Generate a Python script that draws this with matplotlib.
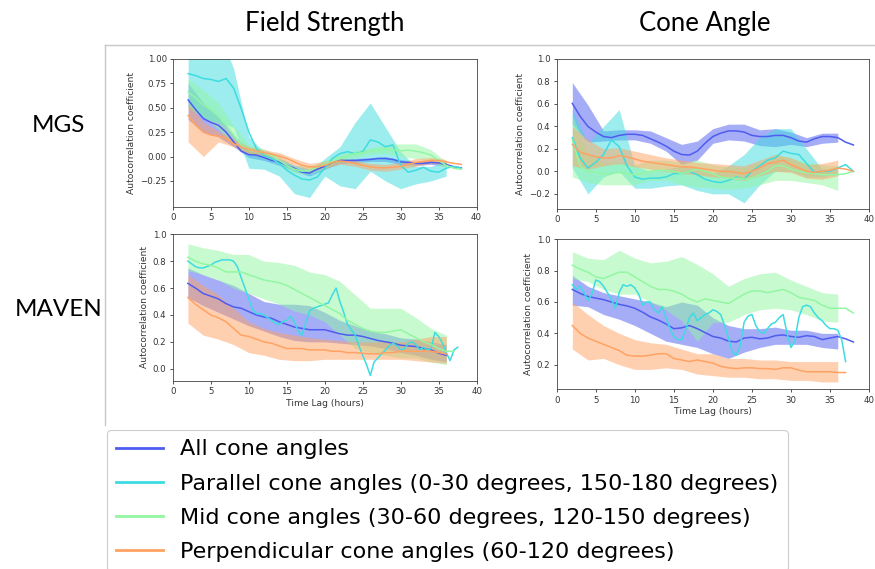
import numpy as np
import matplotlib
matplotlib.use("Agg")
import matplotlib.pyplot as plt
from matplotlib.lines import Line2D

nan = np.nan

# time lag grids (hours)
hours = np.arange(2, 39, 1)            # 2..38
hours_fine = np.arange(2, 38.01, 0.5)  # 2..38 every half hour
hours_band = np.arange(2, 37, 2)       # 2..36 for the shaded ranges

labels = ["All cone angles",
          "Parallel cone angles (0-30 degrees, 150-180 degrees)",
          "Mid cone angles (30-60 degrees, 120-150 degrees)",
          "Perpendicular cone angles (60-120 degrees)"]
colors = ["#4f5cf0", "#3ddce0", "#92f6a2", "#ffa263"]

# ---- Field strength, MGS ----
fs_mgs_all = [0.58, 0.48, 0.39, 0.35, 0.32, 0.25, 0.15, 0.055, 0.02, 0.015, -0.01, -0.04, -0.055, -0.09, -0.12,
              -0.16, -0.17, -0.13, -0.10, -0.06, -0.04, -0.04, -0.04, -0.035, -0.03, -0.02, -0.02, -0.03, -0.055,
              -0.06, -0.07, -0.07, -0.06, -0.065, -0.08, -0.105, -0.115]
fs_mgs_all_lo = [0.38, 0.25, 0.20, 0.10, -0.01, -0.04, -0.09, -0.15, -0.20, -0.13, -0.07, -0.06, -0.05, -0.05, -0.08,
                 -0.09, -0.08, -0.10]
fs_mgs_all_hi = [0.75, 0.55, 0.42, 0.22, 0.06, 0.03, -0.02, -0.09, -0.13, -0.07, -0.02, -0.02, -0.01, 0.0, -0.03,
                 -0.05, -0.04, -0.06]
fs_mgs_par = [0.85, 0.83, 0.80, 0.79, 0.77, 0.80, 0.70, 0.49, 0.25, 0.08, 0.01, -0.02, -0.07, -0.14, -0.19, -0.23,
              -0.24, -0.21, -0.12, -0.02, 0.03, 0.05, 0.03, 0.05, 0.17, 0.15, 0.10, 0.12, -0.09, -0.16, -0.14, -0.11,
              -0.15, -0.16, -0.12, -0.10, -0.12]
fs_mgs_par_lo = [0.50, 0.40, 0.35, 0.30, -0.12, -0.13, -0.20, -0.38, -0.42, -0.20, -0.30, -0.33, -0.15, -0.25, -0.33,
                 -0.28, -0.25, -0.20]
fs_mgs_par_hi = [1.30, 1.30, 1.30, 0.90, 0.20, 0.05, -0.05, -0.12, -0.15, -0.02, 0.10, 0.35, 0.55, 0.30, 0.05, -0.10,
                 -0.10, -0.05]
fs_mgs_mid = [0.66, 0.60, 0.53, 0.48, 0.41, 0.32, 0.22, 0.12, 0.065, 0.055, 0.04, 0.015, -0.04, -0.09, -0.13, -0.15,
              -0.14, -0.11, -0.08, -0.05, -0.02, 0.01, 0.03, 0.04, 0.055, 0.065, 0.075, 0.07, 0.06, 0.065, 0.055,
              0.04, 0.015, -0.04, -0.09, -0.12, -0.13]
fs_mgs_mid_lo = [0.50, 0.40, 0.28, 0.12, 0.02, 0.0, -0.08, -0.17, -0.18, -0.12, -0.06, -0.01, 0.02, 0.03, 0.0, -0.02,
                 -0.04, -0.13]
fs_mgs_mid_hi = [0.80, 0.68, 0.55, 0.32, 0.12, 0.08, 0.0, -0.09, -0.10, -0.04, 0.02, 0.06, 0.09, 0.12, 0.13, 0.13,
                 0.07, -0.05]
fs_mgs_perp = [0.42, 0.32, 0.25, 0.22, 0.21, 0.185, 0.13, 0.10, 0.07, 0.055, 0.04, 0.025, 0.005, -0.02, -0.055, -0.09,
               -0.105, -0.105, -0.09, -0.06, -0.045, -0.055, -0.07, -0.09, -0.105, -0.115, -0.115, -0.11, -0.10,
               -0.08, -0.06, -0.05, -0.04, -0.04, -0.055, -0.07, -0.08]
fs_mgs_perp_lo = [0.15, 0.0, 0.15, 0.10, 0.03, 0.01, -0.03, -0.09, -0.14, -0.12, -0.08, -0.10, -0.14, -0.15, -0.13,
                  -0.10, -0.07, -0.08]
fs_mgs_perp_hi = [0.55, 0.35, 0.26, 0.18, 0.10, 0.07, 0.04, -0.02, -0.07, -0.05, -0.02, -0.04, -0.07, -0.08, -0.06,
                  -0.02, -0.01, -0.03]

# ---- Cone angle, MGS ----
ca_mgs_all = [0.605, 0.49, 0.40, 0.35, 0.31, 0.30, 0.32, 0.33, 0.33, 0.32, 0.29, 0.26, 0.225, 0.18, 0.15, 0.145, 0.18,
              0.25, 0.31, 0.34, 0.36, 0.36, 0.35, 0.32, 0.31, 0.31, 0.32, 0.32, 0.30, 0.27, 0.26, 0.29, 0.31, 0.31,
              0.30, 0.26, 0.235]
ca_mgs_all_lo = [0.42, 0.26, 0.27, 0.28, 0.28, 0.25, 0.18, 0.06, 0.10, 0.25, 0.28, 0.27, 0.23, 0.22, 0.24, 0.22,
                 0.25, 0.26]
ca_mgs_all_hi = [0.79, 0.59, 0.36, 0.37, 0.37, 0.36, 0.30, 0.24, 0.27, 0.38, 0.42, 0.42, 0.37, 0.38, 0.35, 0.30,
                 0.34, 0.34]
ca_mgs_par = [0.30, 0.12, 0.03, 0.08, 0.15, 0.28, 0.22, 0.05, -0.05, -0.07, -0.06, -0.06, -0.05, -0.02, -0.02, 0.0,
              -0.03, -0.07, -0.09, -0.10, -0.08, -0.05, -0.07, 0.0, 0.05, 0.10, 0.12, 0.18, 0.16, 0.15, 0.07, -0.01,
              0.0, 0.0, 0.03, 0.06, 0.0]
ca_mgs_par_lo = [0.03, -0.20, -0.05, 0.0, -0.15, -0.15, -0.13, -0.12, -0.17, -0.20, -0.20, -0.28, -0.12, 0.0, 0.0,
                 -0.05, -0.05, -0.02]
ca_mgs_par_hi = [0.55, 0.25, 0.40, 0.55, 0.05, 0.0, 0.02, 0.05, 0.03, -0.02, 0.05, 0.15, 0.30, 0.38, 0.38, 0.20,
                 0.02, 0.02]
ca_mgs_mid = [0.28, 0.05, 0.0, -0.01, -0.02, -0.02, -0.01, -0.02, -0.03, -0.02, 0.0, 0.01, 0.01, 0.0, -0.02, 0.0,
              0.02, 0.0, -0.02, -0.05, -0.06, -0.06, -0.07, -0.06, -0.03, 0.0, 0.05, 0.05, 0.02, 0.0, -0.01, -0.02,
              -0.03, -0.03, -0.03, -0.02, 0.0]
ca_mgs_mid_lo = [-0.05, -0.10, -0.12, -0.12, -0.12, -0.08, -0.08, -0.12, -0.14, -0.15, -0.16, -0.15, -0.12, -0.08,
                 -0.08, -0.10, -0.12, -0.17]
ca_mgs_mid_hi = [0.50, 0.15, 0.08, 0.08, 0.06, 0.10, 0.10, 0.08, 0.10, 0.06, 0.04, 0.03, 0.08, 0.15, 0.12, 0.08,
                 0.06, 0.05]
ca_mgs_perp = [0.24, 0.17, 0.15, 0.13, 0.12, 0.12, 0.14, 0.13, 0.11, 0.09, 0.08, 0.07, 0.06, 0.05, 0.04, 0.04, 0.03,
               0.02, 0.01, 0.0, 0.0, -0.01, -0.02, 0.0, 0.03, 0.07, 0.08, 0.10, 0.06, 0.03, 0.0, -0.01, 0.0, 0.01,
               0.03, 0.02, 0.0]
ca_mgs_perp_lo = [0.05, 0.02, 0.05, 0.07, 0.04, 0.02, 0.0, -0.02, -0.03, -0.05, -0.06, -0.08, -0.04, 0.0, -0.01,
                  -0.06, -0.07, -0.04]
ca_mgs_perp_hi = [0.40, 0.28, 0.20, 0.21, 0.18, 0.15, 0.12, 0.10, 0.08, 0.07, 0.06, 0.05, 0.10, 0.15, 0.12, 0.06,
                  0.07, 0.10]

# ---- Field strength, MAVEN ----
fs_mav_all = [0.635, 0.60, 0.56, 0.54, 0.52, 0.485, 0.46, 0.45, 0.425, 0.40, 0.385, 0.375, 0.35, 0.33, 0.31, 0.30,
              0.29, 0.29, 0.29, 0.275, 0.26, 0.25, 0.25, 0.24, 0.225, 0.21, 0.20, 0.19, 0.175, 0.17, 0.165, 0.15,
              0.14, 0.115, 0.10, nan, nan]
fs_mav_all_lo = [0.53, 0.47, 0.42, 0.37, 0.32, 0.28, 0.24, 0.21, 0.20, 0.20, 0.19, 0.18, 0.17, 0.15, 0.12, 0.10,
                 0.07, 0.05]
fs_mav_all_hi = [0.75, 0.70, 0.66, 0.62, 0.56, 0.50, 0.48, 0.48, 0.47, 0.42, 0.36, 0.32, 0.28, 0.26, 0.23, 0.22,
                 0.20, 0.18]
fs_mav_par = [0.80, 0.78, 0.76, 0.75, 0.75, 0.76, 0.77, 0.79, 0.80, 0.81, 0.81, 0.81, 0.80, 0.76, 0.68, 0.60, 0.52,
              0.44, 0.41, 0.41, 0.40, 0.38, 0.36, 0.34, 0.33, 0.35, 0.36, 0.39, 0.35, 0.28, 0.25, 0.34, 0.43, 0.45,
              0.46, 0.47, 0.48, 0.49, 0.55, 0.60, 0.50, 0.42, 0.33, 0.29, 0.25, 0.17, 0.10, 0.03, -0.05, 0.05, 0.08,
              0.11, 0.14, 0.17, 0.19, 0.17, 0.14, 0.15, 0.19, 0.20, 0.18, 0.14, 0.16, 0.14, 0.15, 0.27, 0.24, 0.19,
              0.12, 0.06, 0.14, 0.16, nan]
fs_mav_mid = [0.83, 0.80, 0.78, 0.77, 0.75, 0.72, 0.72, 0.72, 0.70, 0.68, 0.66, 0.65, 0.64, 0.62, 0.59, 0.56, 0.53,
              0.50, 0.47, 0.44, 0.41, 0.36, 0.33, 0.30, 0.28, 0.27, 0.27, 0.28, 0.29, 0.26, 0.23, 0.20, 0.18, 0.15,
              0.13, 0.13, nan]
fs_mav_mid_lo = [0.73, 0.70, 0.66, 0.60, 0.56, 0.52, 0.48, 0.43, 0.40, 0.35, 0.25, 0.15, 0.12, 0.10, 0.08, 0.08,
                 0.05, 0.03]
fs_mav_mid_hi = [0.93, 0.90, 0.88, 0.85, 0.85, 0.80, 0.79, 0.77, 0.72, 0.70, 0.65, 0.55, 0.45, 0.45, 0.45, 0.38,
                 0.30, 0.25]
fs_mav_perp = [0.53, 0.48, 0.44, 0.40, 0.38, 0.35, 0.30, 0.25, 0.24, 0.22, 0.20, 0.19, 0.17, 0.15, 0.15, 0.15, 0.14,
               0.14, 0.14, 0.13, 0.13, 0.12, 0.12, 0.115, 0.11, 0.11, 0.12, 0.12, 0.13, 0.13, 0.13, 0.13, 0.13, 0.12,
               0.11, nan, nan]
fs_mav_perp_lo = [0.34, 0.25, 0.22, 0.18, 0.12, 0.10, 0.07, 0.06, 0.06, 0.07, 0.07, 0.07, 0.07, 0.07, 0.07, 0.06,
                  0.05, 0.04]
fs_mav_perp_hi = [0.70, 0.62, 0.55, 0.45, 0.35, 0.30, 0.27, 0.25, 0.23, 0.22, 0.21, 0.20, 0.20, 0.20, 0.20, 0.22,
                  0.24, 0.24]

# ---- Cone angle, MAVEN ----
ca_mav_all = [0.68, 0.655, 0.635, 0.625, 0.615, 0.60, 0.585, 0.575, 0.56, 0.535, 0.505, 0.485, 0.46, 0.43, 0.435,
              0.45, 0.43, 0.405, 0.38, 0.37, 0.35, 0.345, 0.37, 0.375, 0.365, 0.37, 0.385, 0.39, 0.38, 0.375, 0.385,
              0.38, 0.36, 0.37, 0.38, 0.365, 0.345]
ca_mav_all_lo = [0.58, 0.57, 0.52, 0.49, 0.45, 0.40, 0.35, 0.33, 0.31, 0.27, 0.24, 0.28, 0.31, 0.33, 0.33, 0.33,
                 0.31, 0.30]
ca_mav_all_hi = [0.77, 0.70, 0.66, 0.64, 0.62, 0.60, 0.57, 0.60, 0.58, 0.50, 0.45, 0.43, 0.43, 0.44, 0.42, 0.42,
                 0.40, 0.40]
ca_mav_par = [0.71, 0.68, 0.70, 0.66, 0.61, 0.65, 0.74, 0.73, 0.70, 0.66, 0.62, 0.56, 0.66, 0.71, 0.70, 0.71, 0.69,
              0.65, 0.58, 0.60, 0.60, 0.55, 0.53, 0.57, 0.50, 0.43, 0.38, 0.36, 0.36, 0.42, 0.50, 0.53, 0.48, 0.50,
              0.52, 0.53, 0.55, 0.54, 0.52, 0.45, 0.37, 0.28, 0.26, 0.32, 0.47, 0.51, 0.52, 0.45, 0.41, 0.40, 0.43,
              0.46, 0.47, 0.50, 0.52, 0.40, 0.31, 0.35, 0.50, 0.57, 0.58, 0.57, 0.53, 0.50, 0.48, 0.45, 0.43, 0.43,
              0.42, 0.36, 0.22, nan, nan]
ca_mav_mid = [0.835, 0.81, 0.79, 0.76, 0.75, 0.77, 0.79, 0.79, 0.76, 0.73, 0.70, 0.68, 0.68, 0.67, 0.65, 0.62, 0.60,
              0.62, 0.61, 0.60, 0.59, 0.62, 0.65, 0.67, 0.67, 0.66, 0.67, 0.68, 0.66, 0.63, 0.62, 0.61, 0.58, 0.56,
              0.56, 0.56, 0.53]
ca_mav_mid_lo = [0.75, 0.73, 0.68, 0.65, 0.65, 0.60, 0.55, 0.48, 0.35, 0.47, 0.47, 0.52, 0.55, 0.56, 0.55, 0.52,
                 0.48, 0.47]
ca_mav_mid_hi = [0.92, 0.88, 0.87, 0.93, 0.88, 0.85, 0.86, 0.89, 0.84, 0.78, 0.70, 0.75, 0.78, 0.79, 0.74, 0.70,
                 0.66, 0.65]
ca_mav_perp = [0.45, 0.40, 0.37, 0.35, 0.33, 0.31, 0.29, 0.26, 0.255, 0.255, 0.26, 0.27, 0.27, 0.24, 0.23, 0.22,
               0.23, 0.22, 0.21, 0.19, 0.18, 0.175, 0.18, 0.18, 0.175, 0.175, 0.17, 0.18, 0.18, 0.165, 0.155, 0.155,
               0.155, 0.155, 0.15, 0.15, nan]
ca_mav_perp_lo = [0.30, 0.23, 0.24, 0.20, 0.17, 0.17, 0.18, 0.17, 0.14, 0.13, 0.12, 0.12, 0.11, 0.11, 0.10, 0.10,
                  0.09, 0.09]
ca_mav_perp_hi = [0.60, 0.52, 0.45, 0.40, 0.36, 0.34, 0.33, 0.30, 0.27, 0.27, 0.24, 0.24, 0.23, 0.23, 0.22, 0.22,
                  0.22, 0.22]


def draw_panel(ax, series, ylim, yticks, xlabel=False):
    # series: list of (x, mean, lo, hi) in the order all / parallel / mid / perpendicular
    for (x, mean, lo, hi), c in zip(series, colors):
        ax.plot(x, mean, color=c, lw=1.1)
        if lo is not None:
            ax.fill_between(hours_band, lo, hi, color=c, alpha=0.5, lw=0)
    ax.set_xlim(0, 40)
    ax.set_xticks(np.arange(0, 41, 5))
    ax.set_ylim(*ylim)
    ax.set_yticks(yticks)
    ax.set_ylabel("Autocorrelation coefficient", fontsize=6.6, labelpad=3, color="#333333")
    if xlabel:
        ax.set_xlabel("Time Lag (hours)", fontsize=6.6, labelpad=2, color="#333333")
    ax.tick_params(labelsize=6.2, length=2.5, width=0.6, pad=2, colors="#333333")
    for s in ax.spines.values():
        s.set_linewidth(0.6)
        s.set_color("#444444")


fig = plt.figure(figsize=(8.75, 5.69), dpi=100)
W, H = 875.0, 569.0


def box(x0, y0, x1, y1):
    return [x0 / W, 1 - y1 / H, (x1 - x0) / W, (y1 - y0) / H]


ax_tl = fig.add_axes(box(173, 59, 476.5, 207))
ax_tr = fig.add_axes(box(556.7, 59, 869, 209))
ax_bl = fig.add_axes(box(172.7, 234.3, 476.7, 380.7))
ax_br = fig.add_axes(box(556.7, 239.3, 869, 389.3))

draw_panel(ax_tl, [(hours, fs_mgs_all, fs_mgs_all_lo, fs_mgs_all_hi),
                   (hours, fs_mgs_par, fs_mgs_par_lo, fs_mgs_par_hi),
                   (hours, fs_mgs_mid, fs_mgs_mid_lo, fs_mgs_mid_hi),
                   (hours, fs_mgs_perp, fs_mgs_perp_lo, fs_mgs_perp_hi)],
           (-0.517, 1.0), [-0.25, 0.0, 0.25, 0.5, 0.75, 1.0])
draw_panel(ax_tr, [(hours, ca_mgs_all, ca_mgs_all_lo, ca_mgs_all_hi),
                   (hours, ca_mgs_par, ca_mgs_par_lo, ca_mgs_par_hi),
                   (hours, ca_mgs_mid, ca_mgs_mid_lo, ca_mgs_mid_hi),
                   (hours, ca_mgs_perp, ca_mgs_perp_lo, ca_mgs_perp_hi)],
           (-0.335, 1.0), [-0.2, 0.0, 0.2, 0.4, 0.6, 0.8, 1.0])
draw_panel(ax_bl, [(hours, fs_mav_all, fs_mav_all_lo, fs_mav_all_hi),
                   (hours_fine, fs_mav_par, None, None),
                   (hours, fs_mav_mid, fs_mav_mid_lo, fs_mav_mid_hi),
                   (hours, fs_mav_perp, fs_mav_perp_lo, fs_mav_perp_hi)],
           (-0.089, 1.0), [0.0, 0.2, 0.4, 0.6, 0.8, 1.0], xlabel=True)
draw_panel(ax_br, [(hours, ca_mav_all, ca_mav_all_lo, ca_mav_all_hi),
                   (hours_fine, ca_mav_par, None, None),
                   (hours, ca_mav_mid, ca_mav_mid_lo, ca_mav_mid_hi),
                   (hours, ca_mav_perp, ca_mav_perp_lo, ca_mav_perp_hi)],
           (0.043, 1.0), [0.2, 0.4, 0.6, 0.8, 1.0], xlabel=True)

# column / row headings
head_font = dict(family=["Lato", "DejaVu Sans"], color="black", ha="center", va="center")
fig.text(325 / W, 1 - 23 / H, "Field Strength", fontsize=18.5, **head_font)
fig.text(705 / W, 1 - 23 / H, "Cone Angle", fontsize=18.5, **head_font)
fig.text(58 / W, 1 - 125 / H, "MGS", fontsize=17.5, **head_font)
fig.text(59 / W, 1 - 310 / H, "MAVEN", fontsize=17.5, **head_font)

# thin grey frame lines of the composite
fig.add_artist(Line2D([105 / W, 1.0], [1 - 45 / H, 1 - 45 / H], color="#c8c8c8", lw=1))
fig.add_artist(Line2D([105 / W, 105 / W], [1 - 45 / H, 1 - 425 / H], color="#c8c8c8", lw=1))

handles = [Line2D([], [], color=c, lw=2) for c in colors]
leg = fig.legend(handles, labels, loc="upper left", bbox_to_anchor=(107 / W, 1 - 430 / H),
                 borderaxespad=0, fontsize=16, handlelength=2.1, handletextpad=0.77, labelspacing=0.64,
                 borderpad=0.42, fancybox=True, framealpha=1, edgecolor="#cccccc")
leg.get_frame().set_linewidth(0.8)

fig.savefig("out.png", dpi=100)
